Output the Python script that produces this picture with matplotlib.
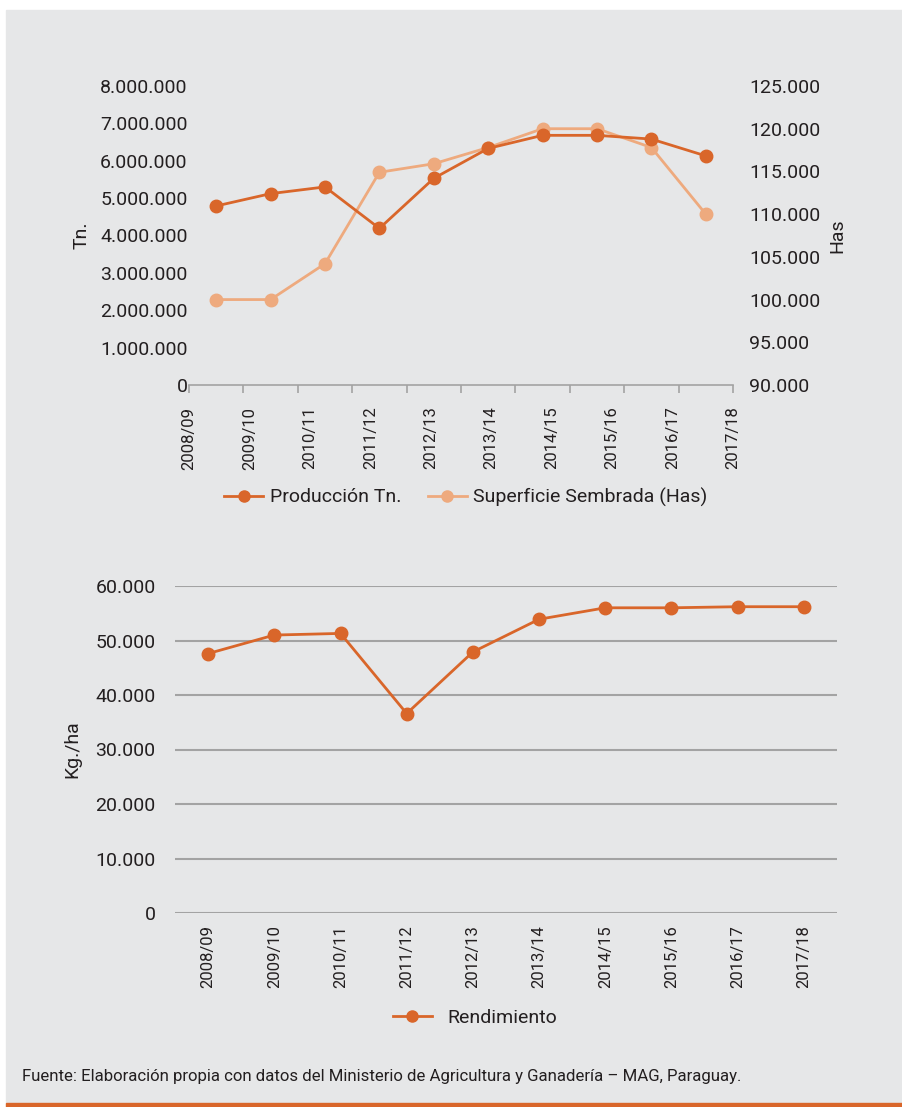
import matplotlib
matplotlib.use("Agg")
import matplotlib.pyplot as plt
from matplotlib.lines import Line2D
from matplotlib.patches import Rectangle
from matplotlib.ticker import FuncFormatter

plt.rcParams["font.family"] = ["Roboto", "DejaVu Sans"]

campaigns = ["2008/09", "2009/10", "2010/11", "2011/12", "2012/13",
             "2013/14", "2014/15", "2015/16", "2016/17", "2017/18"]
produccion_tn = [4790000, 5120000, 5300000, 4190000, 5530000,
                 6330000, 6680000, 6680000, 6580000, 6130000]
superficie_has = [100000, 100000, 104200, 114900, 115900,
                  117800, 120000, 120000, 117800, 110000]
rendimiento = [47600, 51000, 51300, 36600, 47900,
               53900, 56000, 56000, 56200, 56200]

BG = "#e6e7e8"
DARK = "#d9662a"
LIGHT = "#eeaa7e"
TEXT = "#231f20"
AXIS = "#a3a3a3"


def dots(v, _pos=None):
    return f"{v:,.0f}".replace(",", ".")


W, H = 902, 1107
fig = plt.figure(figsize=(W / 100, H / 100), dpi=100)
fig.patch.set_facecolor("white")
fig.patches.append(Rectangle((6 / W, 4 / H), 1 - 6 / W, (1097 - 4) / H,
                             transform=fig.transFigure, color=BG, zorder=-10))
fig.patches.append(Rectangle((6 / W, 0), 1 - 6 / W, 4 / H,
                             transform=fig.transFigure, color=DARK, zorder=-10))


def box(x0, y0, x1, y1):
    return [x0 / W, 1 - y1 / H, (x1 - x0) / W, (y1 - y0) / H]


# top chart: production and sown area
ax = fig.add_axes(box(189, 86, 733, 385))
ax.set_facecolor("none")
n = len(campaigns)
xs = [i + 0.5 for i in range(n)]
ax.plot(xs, produccion_tn, color=DARK, lw=2.0, marker="o", ms=9, zorder=3)
ax.set_xlim(0, n)
ax.set_ylim(0, 8000000)
ax.set_yticks(range(0, 8000001, 1000000))
ax.yaxis.set_major_formatter(FuncFormatter(dots))
ax.set_xticks(range(n + 1))
ax.set_xticklabels([])
ax.tick_params(axis="x", length=6, color=AXIS, width=1.2, direction="out")
ax.tick_params(axis="y", length=0, pad=1, labelsize=14, labelcolor=TEXT)
for s in ["top", "right", "left"]:
    ax.spines[s].set_visible(False)
ax.spines["bottom"].set_color(AXIS)
ax.spines["bottom"].set_linewidth(1.2)
for i, lab in enumerate(campaigns):
    ax.text(i * n / (n - 1), -0.072, lab, transform=ax.get_xaxis_transform(),
            rotation=90, ha="center", va="top", fontsize=12, color=TEXT)
ax.set_ylabel("Tn.", fontsize=14, color=TEXT, labelpad=7)

ax2 = ax.twinx()
ax2.plot(xs, superficie_has, color=LIGHT, lw=2.0, marker="o", ms=9, zorder=2)
ax2.set_ylim(90000, 125000)
ax2.set_yticks(range(90000, 125001, 5000))
ax2.yaxis.set_major_formatter(FuncFormatter(dots))
ax2.tick_params(axis="y", length=0, pad=11.5, labelsize=14, labelcolor=TEXT)
for s in ax2.spines.values():
    s.set_visible(False)
ax2.set_ylabel("Has", fontsize=14, color=TEXT, labelpad=6)
ax.set_zorder(ax2.get_zorder() + 1)

h1 = Line2D([], [], color=DARK, lw=2.0, marker="o", ms=8)
h2 = Line2D([], [], color=LIGHT, lw=2.0, marker="o", ms=8)
fig.legend([h1, h2], ["Producción Tn.", "Superficie Sembrada (Has)"],
           loc="center", bbox_to_anchor=(466 / W, 1 - 497 / H), ncol=2,
           frameon=False, fontsize=14, labelcolor=TEXT, handlelength=2.0,
           handletextpad=0.35, columnspacing=1.35)

# bottom chart: yield
bx = fig.add_axes(box(175, 586, 837, 913))
bx.set_facecolor("none")
bx.plot(range(n), rendimiento, color=DARK, lw=2.0, marker="o", ms=9, zorder=3)
bx.set_xlim(-0.5, n - 0.5)
bx.set_ylim(0, 60000)
bx.set_yticks(range(0, 60001, 10000))
bx.yaxis.set_major_formatter(FuncFormatter(dots))
bx.set_xticks(range(n))
bx.set_xticklabels(campaigns, rotation=90)
bx.tick_params(axis="x", length=0, pad=9, labelsize=12, labelcolor=TEXT)
bx.tick_params(axis="y", length=0, pad=14, labelsize=14, labelcolor=TEXT)
bx.grid(axis="y", color=AXIS, lw=1.5)
bx.set_axisbelow(True)
for s in bx.spines.values():
    s.set_visible(False)
bx.set_ylabel("Kg./ha", fontsize=14, color=TEXT, labelpad=10)

h3 = Line2D([], [], color=DARK, lw=2.0, marker="o", ms=8)
fig.legend([h3], ["Rendimiento"], loc="center",
           bbox_to_anchor=(475 / W, 1 - 1018 / H), frameon=False,
           fontsize=14, labelcolor=TEXT, handlelength=2.0, handletextpad=0.8)

fig.text(22 / W, 1 - 1077 / H,
         "Fuente: Elaboración propia con datos del Ministerio de Agricultura "
         "y Ganadería – MAG, Paraguay.",
         ha="left", va="center", fontsize=12.1, color=TEXT)

fig.savefig("out.png", dpi=100, facecolor="white")
